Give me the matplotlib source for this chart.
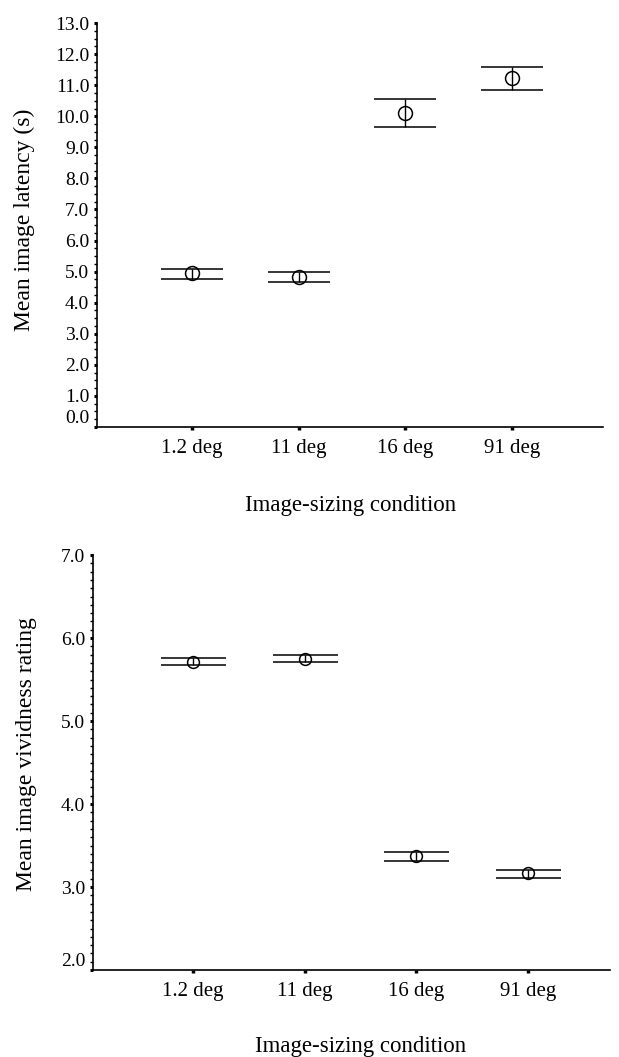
"""
Mean image latency and vividness by image-sizing condition.
"""
from matplotlib import pyplot as plt
from matplotlib.ticker import MultipleLocator
import numpy as np

plt.rcParams['font.family'] = ['Liberation Serif', 'DejaVu Serif']

conditions = ['1.2 deg', '11 deg', '16 deg', '91 deg']

latency_mean = [4.96, 4.84, 10.10, 11.22]
latency_low = [4.77, 4.67, 9.66, 10.86]
latency_high = [5.09, 5.00, 10.55, 11.58]

vivid_mean = [5.71, 5.75, 3.37, 3.17]
vivid_low = [5.675, 5.707, 3.31, 3.11]
vivid_high = [5.763, 5.80, 3.42, 3.21]


def draw_panel(ax, mean, low, high, ylim, minor, ylabel, xlim, ms, cap):
    x = np.arange(1, len(conditions) + 1)
    mean = np.array(mean)
    yerr = [mean - np.array(low), np.array(high) - mean]
    ax.errorbar(x, mean, yerr=yerr, fmt='o', mfc='none', mec='black',
                ms=ms, mew=1.1, ecolor='black', elinewidth=1.0,
                capsize=cap, capthick=1.3, color='black', zorder=3)

    ax.set_xlim(*xlim)
    ax.set_ylim(*ylim)
    ax.set_xticks(x)
    ax.set_xticklabels(conditions)
    major = np.arange(ylim[0], ylim[1] + 0.01, 1.0)
    ax.set_yticks(major)
    ax.set_yticklabels(['%.1f' % v for v in major])
    ax.yaxis.set_minor_locator(MultipleLocator(minor))

    for side in ['top', 'right']:
        ax.spines[side].set_visible(False)
    for side in ['left', 'bottom']:
        ax.spines[side].set_linewidth(1.2)

    ax.tick_params(axis='y', labelsize=14, direction='out')
    ax.tick_params(axis='x', labelsize=15, direction='out')
    ax.tick_params(axis='y', which='major', length=2, width=2.2, pad=3.5)
    ax.tick_params(axis='y', which='minor', length=2.2, width=1)
    ax.tick_params(axis='x', which='major', length=2.5, width=2.5, pad=6)

    # lowest label sits a little above the x-axis
    ax.yaxis.get_major_ticks()[0].label1.set_va('bottom')

    ax.set_ylabel(ylabel, fontsize=17)
    ax.set_xlabel('Image-sizing condition', fontsize=16.5)


fig = plt.figure(figsize=(6.19, 10.57), dpi=100)

ax1 = fig.add_axes([0.1567, 0.5960, 0.8174, 0.3822])
draw_panel(ax1, latency_mean, latency_low, latency_high, (0.0, 13.0), 0.25,
           'Mean image latency (s)', (0.109, 4.853), 10, 22)
ax1.yaxis.set_label_coords(-0.122, 0.512)
ax1.xaxis.set_label_coords(0.502, -0.168)

ax2 = fig.add_axes([0.1502, 0.0823, 0.8352, 0.3926])
draw_panel(ax2, vivid_mean, vivid_low, vivid_high, (2.0, 7.0), 0.1,
           'Mean image vividness rating', (0.105, 4.734), 8.5, 23.4)
ax2.yaxis.set_label_coords(-0.108, 0.52)
ax2.xaxis.set_label_coords(0.518, -0.16)

fig.savefig('out.png', dpi=100)
